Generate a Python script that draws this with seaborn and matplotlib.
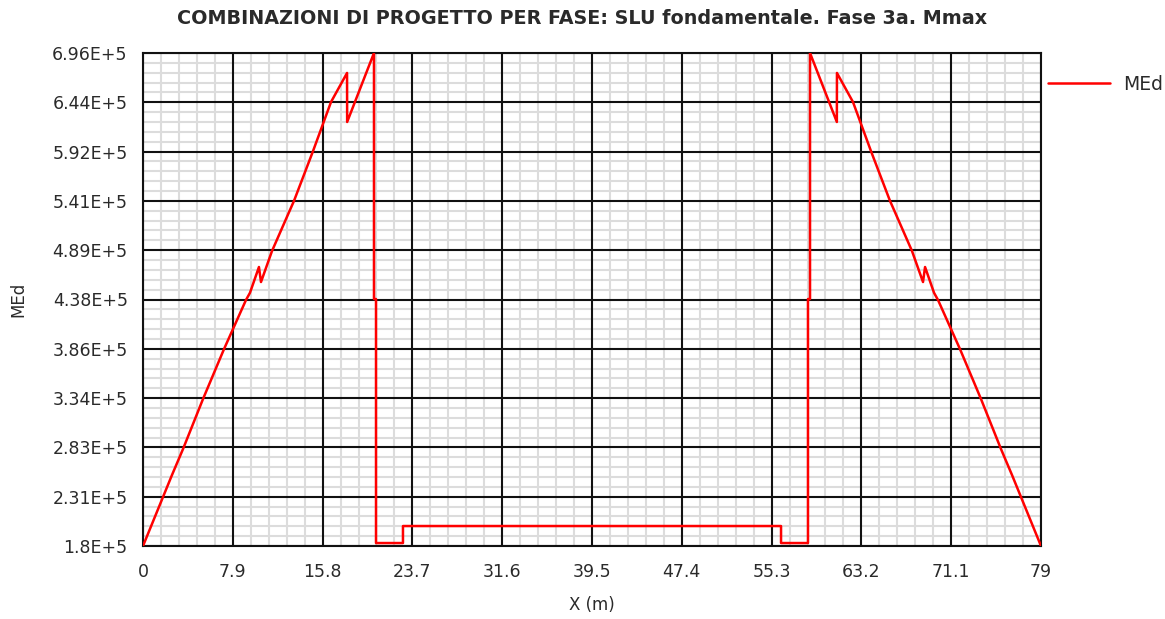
import numpy as np
import pandas as pd
import matplotlib
matplotlib.use("Agg")
import matplotlib.pyplot as plt
from matplotlib.ticker import FixedLocator, AutoMinorLocator
import seaborn as sns

# Bending moment envelope MEd along the deck, left half (X in m)
x_left = [0.0, 2.55, 3.52, 5.28, 7.13, 9.06, 9.41, 10.20, 10.38, 11.35,
          12.93, 13.28, 14.96, 16.54, 17.95, 17.96, 20.32, 20.32, 20.50,
          20.50, 22.87, 22.87]
med_left = [180000, 254300, 281500, 333900, 386200, 437500, 445000, 472000,
            456300, 488800, 531700, 541100, 593400, 644700, 675100, 623800,
            696000, 438500, 438500, 183100, 183100, 200900]

span = 79.0
x_vals = x_left + [span - v for v in reversed(x_left)]
med_vals = med_left + list(reversed(med_left))

x_ticks = [0, 7.9, 15.8, 23.7, 31.6, 39.5, 47.4, 55.3, 63.2, 71.1, 79]
x_tick_labels = ["0", "7.9", "15.8", "23.7", "31.6", "39.5", "47.4", "55.3",
                 "63.2", "71.1", "79"]
y_ticks = [180000, 231600, 283200, 334800, 386400, 438000, 489600, 541200,
           592800, 644400, 696000]
y_tick_labels = ["1.8E+5", "2.31E+5", "2.83E+5", "3.34E+5", "3.86E+5",
                 "4.38E+5", "4.89E+5", "5.41E+5", "5.92E+5", "6.44E+5",
                 "6.96E+5"]

df = pd.DataFrame({"X": x_vals, "MEd": med_vals, "serie": "MEd"})

sns.set_theme(style="white")
plt.rcParams["font.family"] = ["DejaVu Sans"]

TXT = "#2a2a2a"

fig = plt.figure(figsize=(11.65, 6.19), dpi=100)
ax = fig.add_axes([143 / 1165, 1 - 546 / 619, 898 / 1165, 493 / 619])

sns.lineplot(data=df, x="X", y="MEd", hue="serie", palette=["#ff0000"],
             sort=False, estimator=None, linewidth=1.8, ax=ax, zorder=5)

ax.set_xlim(0, span)
ax.set_ylim(y_ticks[0], y_ticks[-1])
ax.xaxis.set_major_locator(FixedLocator(x_ticks))
ax.yaxis.set_major_locator(FixedLocator(y_ticks))
ax.set_xticklabels(x_tick_labels)
ax.set_yticklabels(y_tick_labels)
ax.xaxis.set_minor_locator(AutoMinorLocator(5))
ax.yaxis.set_minor_locator(AutoMinorLocator(5))

# light minor grid underneath, dark major grid on top of it
ax.grid(which="minor", color="#dcdcdc", linewidth=1.5)
ax.grid(which="major", visible=False)
ax.set_axisbelow(True)
ax.vlines(x_ticks, y_ticks[0], y_ticks[-1], colors="#111111",
          linewidth=1.5, zorder=1)
ax.hlines(y_ticks, 0, span, colors="#111111", linewidth=1.5, zorder=1)
for s in ax.spines.values():
    s.set_color("#111111")
    s.set_linewidth(1.5)

ax.tick_params(axis="both", which="both", length=0, labelsize=12.5,
               labelcolor=TXT)
ax.tick_params(axis="x", pad=12)
ax.tick_params(axis="y", pad=11)

ax.set_xlabel("X (m)", fontsize=12, color=TXT, labelpad=11)
ax.set_ylabel("MEd", fontsize=12, color=TXT, labelpad=18)
fig.text(0.5, 1 - 18 / 619, "COMBINAZIONI DI PROGETTO PER FASE: SLU fondamentale. Fase 3a. Mmax",
         ha="center", va="center", fontsize=13.8, fontweight="bold", color=TXT)

leg = ax.legend(loc="center left", bbox_to_anchor=(1.0078, 0.937),
                frameon=False, borderpad=0, borderaxespad=0,
                handlelength=3.3, handletextpad=0.7, fontsize=13.5)
for t in leg.get_texts():
    t.set_color(TXT)

fig.savefig("out.png", dpi=100)
